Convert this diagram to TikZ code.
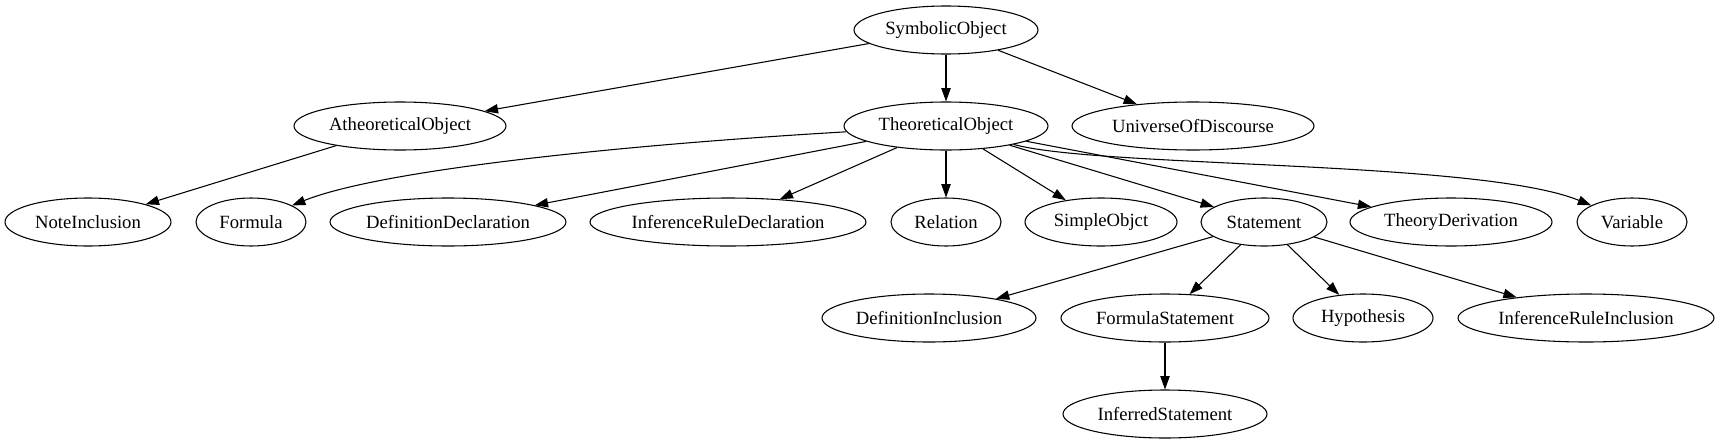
\documentclass[tikz,border=0pt]{standalone}
\usepackage{fontspec}
\setmainfont{Liberation Serif}
\usetikzlibrary{shapes.geometric,arrows.meta}

\begin{document}
\begin{tikzpicture}[x=0.75pt,y=-0.75pt,
    obj/.style={draw,ellipse,line width=0.8pt,inner sep=0pt,minimum height=36pt,
      minimum width=#1*0.75pt,font=\fontsize{14}{16}\selectfont},
    isa/.style={draw,line width=0.8pt,-{Triangle[length=10pt,width=7pt]}}]
  \useasboundingbox (0,0) rectangle (1719,443);
  %
  \node[obj=184] (symb) at (946,30) {SymbolicObject};
  %
  \node[obj=212] (atheo) at (400,126) {AtheoreticalObject};
  \node[obj=204] (theo) at (946,126) {TheoreticalObject};
  \node[obj=242] (univ) at (1193,126) {UniverseOfDiscourse};
  %
  \node[obj=166] (note) at (88,222) {NoteInclusion};
  \node[obj=110] (formula) at (251,222) {Formula};
  \node[obj=236] (defdecl) at (448,222) {DefinitionDeclaration};
  \node[obj=276] (infdecl) at (728,222) {InferenceRuleDeclaration};
  \node[obj=110] (rel) at (946,222) {Relation};
  \node[obj=152] (simple) at (1101,222) {SimpleObjct};
  \node[obj=126] (stmt) at (1264,222) {Statement};
  \node[obj=202] (theoder) at (1451,222) {TheoryDerivation};
  \node[obj=110] (var) at (1632,222) {Variable};
  %
  \node[obj=214] (definc) at (929,318) {DefinitionInclusion};
  \node[obj=208] (formstmt) at (1165,318) {FormulaStatement};
  \node[obj=140] (hypo) at (1363,318) {Hypothesis};
  \node[obj=256] (infinc) at (1586,318) {InferenceRuleInclusion};
  %
  \node[obj=204] (inferred) at (1165,414) {InferredStatement};
  %
  \draw[isa] (symb) -- (atheo);
  \draw[isa] (symb) -- (theo);
  \draw[isa] (symb) -- (univ);
  \draw[isa] (atheo) -- (note);
  %
  \draw[isa] (theo) .. controls (620,145) and (380,170) .. (formula);
  \draw[isa] (theo) -- (defdecl);
  \draw[isa] (theo) -- (infdecl);
  \draw[isa] (theo) -- (rel);
  \draw[isa] (theo) -- (simple);
  \draw[isa] (theo) -- (stmt);
  \draw[isa] (theo) -- (theoder);
  \draw[isa] (theo) .. controls (1100,168) and (1480,160) .. (var);
  %
  \draw[isa] (stmt) -- (definc);
  \draw[isa] (stmt) -- (formstmt);
  \draw[isa] (stmt) -- (hypo);
  \draw[isa] (stmt) -- (infinc);
  \draw[isa] (formstmt) -- (inferred);
  %
\end{tikzpicture}
\end{document}
